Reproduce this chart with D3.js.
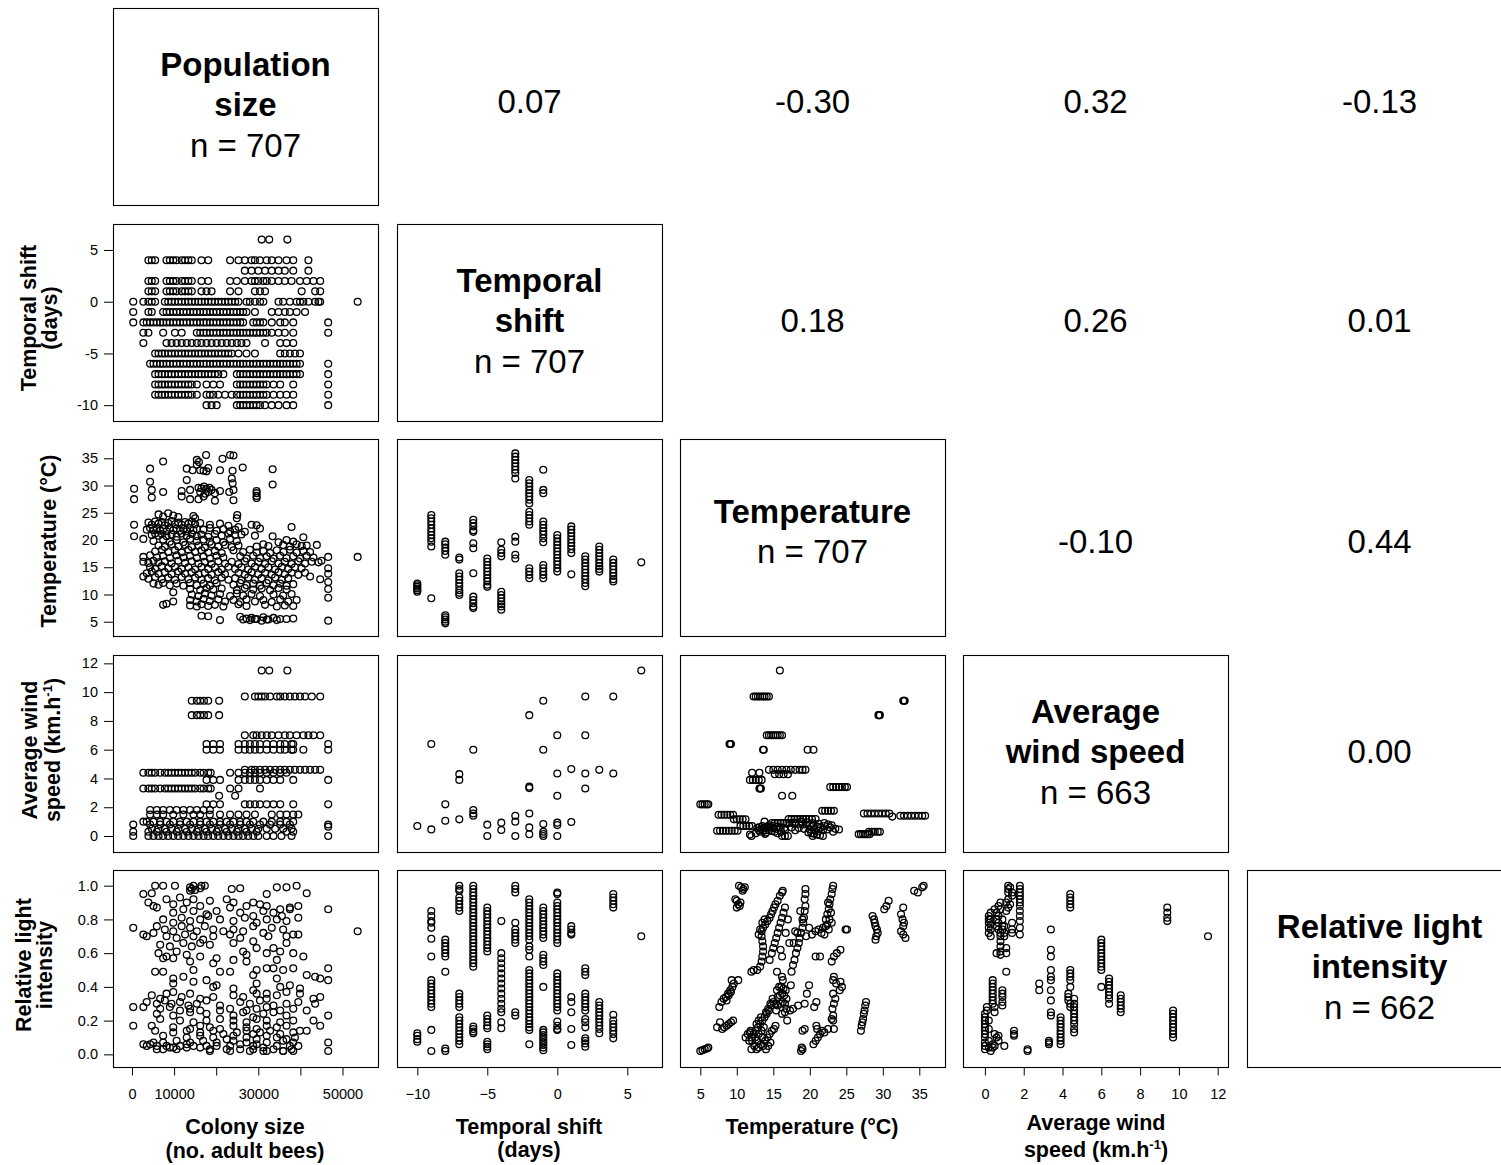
<!DOCTYPE html>
<html><head><meta charset="utf-8">
<script src="https://cdn.jsdelivr.net/npm/d3@7"></script>
<style>body{margin:0;background:#fff}svg{display:block}text{font-family:"Liberation Sans",Arial,Helvetica,sans-serif;fill:#000}</style>
</head><body><svg id="c" width="1501" height="1165"></svg>
<script>
// ---------------- DATA ----------------
const diagLabels = [["Population","size"],["Temporal","shift"],["Temperature"],["Average","wind speed"],["Relative light","intensity"]];
const diagN = [707,707,707,663,662];
const correlations = [[0,1,"0.07"],[0,2,"-0.30"],[0,3,"0.32"],[0,4,"-0.13"],[1,2,"0.18"],[1,3,"0.26"],[1,4,"0.01"],[2,3,"-0.10"],[2,4,"0.44"],[3,4,"0.00"]];
const popTicks = [0,10,20,30,40,50];            // thousands of bees
const popTickLabels = {0:"0",10:"10000",30:"30000",50:"50000"};
const shiftTicks = [-10,-5,0,5];
const tempTicks = [5,10,15,20,25,30,35];
const windTicks = [0,2,4,6,8,10,12];
const lightTicks = [0,0.2,0.4,0.6,0.8,1.0];

// Colony size (thousands) vs temporal shift: [shift, [colony sizes]]
const popShift = [
[6,[30.8,32.6,36.9]],
[4,[3.9,4.7,5.5,8.2,9.0,9.8,10.6,11.8,12.6,13.4,14.2,16.5,18.1,23.3,25.3,26.8,28.4,29.2,30.4,32.0,33.2,34.8,36.7,38.3,41.9]],
[3,[26.8,28.4,30.0,31.6,33.2,34.8,36.3,38.3,41.9]],
[2,[3.9,4.7,5.5,8.2,9.0,9.8,10.6,11.8,12.6,13.4,14.2,16.5,18.1,23.3,24.9,26.8,28.4,29.2,30.0,31.2,32.0,33.2,34.8,36.3,37.9,39.9,41.5,43.1,44.7]],
[1,[3.9,4.7,5.5,8.2,9.0,9.8,10.6,11.8,12.6,13.4,14.2,16.5,17.7,18.9,23.3,25.3,29.2,30.4,31.6,40.3,43.5,44.7]],
[0,[0.3,2.7,3.9,4.7,5.5,7.8,8.6,9.4,10.2,11.0,11.8,12.6,13.4,14.2,15.0,15.8,16.5,17.3,18.1,18.9,19.7,20.5,21.3,22.1,22.9,23.7,24.5,25.3,27.2,28.0,29.2,30.4,31.2,34.8,35.9,37.5,39.1,39.9,40.7,41.9,43.5,44.3,44.7,53.6]],
[-1,[0.3,3.9,4.7,7.4,8.2,9.0,9.8,10.6,11.4,12.2,13.0,13.8,14.6,15.4,16.2,17.0,17.7,18.5,19.3,20.1,20.9,21.7,22.5,23.3,24.1,24.9,25.7,26.4,27.2,29.2,33.2,34.8,36.3,37.5,39.1,41.1]],
[-2,[0.3,2.7,3.5,4.3,5.1,5.9,6.7,7.4,8.2,9.0,9.8,10.6,11.4,12.2,13.0,13.8,14.6,15.4,16.2,17.0,17.7,18.5,19.3,20.1,20.9,21.7,22.5,23.3,24.1,24.9,25.7,26.4,28.8,29.6,30.4,31.2,33.2,35.2,36.3,38.3,46.6]],
[-3,[2.7,3.9,7.4,10.2,11.8,15.4,16.2,17.0,17.7,18.5,19.3,20.1,20.9,21.7,22.5,23.3,24.1,24.9,25.7,26.4,27.2,28.0,28.8,29.6,30.4,31.2,32.0,33.2,34.8,36.3,38.3,46.6]],
[-4,[2.7,8.2,9.4,10.6,11.8,13.0,14.2,15.4,16.5,17.7,18.9,20.1,21.3,22.5,23.7,24.9,26.0,27.2,31.6,35.2,36.7,38.3]],
[-5,[5.5,6.3,7.1,7.8,8.6,9.4,10.2,11.0,11.8,12.6,13.4,14.2,15.0,15.8,16.5,17.3,18.1,18.9,19.7,20.5,21.3,22.1,22.9,23.7,25.3,27.2,29.2,35.2,36.3,37.5,38.7,39.9]],
[-6,[4.3,5.1,5.9,6.7,7.4,8.2,9.0,9.8,10.6,11.4,12.2,13.0,13.8,14.6,15.4,16.2,17.0,17.7,18.5,19.3,20.1,20.9,21.7,22.5,23.3,24.1,24.9,25.7,26.4,27.2,28.0,28.8,29.6,30.4,31.2,32.0,32.8,33.6,34.4,35.2,35.9,36.7,37.5,38.3,39.1,39.9,46.6]],
[-7,[5.5,6.3,7.1,7.8,8.6,9.4,10.2,11.0,11.8,12.6,13.4,14.2,15.0,15.8,16.5,17.3,18.1,18.9,19.7,20.5,21.7,24.9,25.7,26.4,27.2,28.0,28.8,29.6,30.4,31.2,32.0,32.8,33.6,34.4,35.2,35.9,36.7,37.5,38.3,39.1,39.9,46.6]],
[-8,[5.5,6.3,7.1,7.8,8.6,9.4,10.2,11.0,11.8,12.6,13.4,14.2,15.4,17.7,19.3,20.9,24.9,25.7,26.4,27.2,28.0,28.8,29.6,30.4,31.2,32.0,33.6,35.2,38.3,46.6]],
[-9,[5.5,6.3,7.1,7.8,8.6,9.4,10.2,11.0,11.8,12.6,13.4,14.2,15.4,17.7,18.5,19.3,20.5,22.1,23.7,24.9,25.7,26.4,27.2,28.0,28.8,29.6,30.4,31.2,32.0,33.6,35.2,36.7,38.3,46.6]],
[-10,[17.7,18.9,20.1,24.9,25.7,26.4,27.2,28.0,28.8,29.6,30.4,31.6,33.2,34.8,36.7,38.3,46.6]]
];

// Colony size (thousands) vs temperature: [colony, temperature]
const popTemp = [
[17.6,35.6],[23.3,35.6],[24.1,35.5],[21.5,34.9],[15.4,34.7],[7.4,34.4],[15.9,34.3],[15.4,33.8],[26.3,33.3],[4.3,33.1],[13.0,33.1],[18.1,33.2],[33.4,33.0],
[14.4,32.8],[16.2,32.8],[20.9,32.8],[17.0,32.7],[23.9,32.7],[17.7,32.6],[23.7,31.3],[13.0,31.0],[4.3,30.7],[23.9,30.4],[33.4,30.2],
[17.1,29.8],[15.8,29.6],[18.4,29.6],[29.6,29.0],[16.5,29.5],[0.5,29.4],[17.7,29.4],[4.7,29.2],[13.8,29.2],[18.9,29.2],[24.1,29.2],[11.8,29.0],[20.9,29.0],
[7.4,28.8],[16.2,28.8],[18.1,28.8],[23.1,28.8],[19.7,28.6],[29.6,28.6],[17.4,28.5],[29.6,28.1],[11.8,28.0],[17.0,28.0],[4.7,27.8],[29.6,27.7],[0.5,27.5],[13.8,27.5],[15.8,27.5],[24.1,27.3],[19.7,27.2],
[25.0,24.6],[24.9,24.0],[6.3,24.7],[7.4,24.3],[8.6,24.9],[9.8,24.5],[11.0,24.2],[14.6,24.4],[15.0,24.0],
[3.9,23.2],[4.7,22.8],[5.5,23.4],[6.3,23.0],[7.1,23.3],[7.8,22.7],[8.6,23.1],[9.4,23.5],[10.2,22.9],[11.0,23.2],[11.8,22.8],[12.6,23.3],[13.4,23.0],[14.2,23.4],[15.0,22.9],[16.2,23.1],[18.5,22.8],[20.9,23.0],[22.9,22.6],[25.3,22.4],[28.4,22.8],[29.6,22.7],[30.4,22.1],[37.9,22.4],[0.5,22.8],
[3.5,21.9],[4.3,22.2],[5.1,21.8],[5.9,22.1],[6.7,21.7],[7.4,22.0],[8.2,21.6],[9.0,22.2],[9.8,21.8],[10.6,22.1],[11.4,21.7],[12.2,22.0],[13.0,21.6],[13.8,22.2],[14.6,21.8],[15.4,22.0],[17.0,21.9],[18.5,22.2],[20.1,21.7],[21.7,22.0],[23.3,21.6],[24.5,21.9],[26.8,21.5],
[4.7,20.9],[5.5,21.2],[6.3,20.8],[7.1,21.1],[8.2,20.7],[9.4,21.0],[10.6,20.6],[11.8,21.2],[13.0,20.8],[14.2,21.1],[15.4,20.7],[16.5,21.0],[18.1,20.6],[19.7,21.1],[21.3,20.8],[22.9,21.2],[24.5,20.9],[26.0,21.0],[29.2,20.8],
[0.5,20.7],[33.4,20.7],[40.7,20.5],[2.7,20.2],
[5.1,19.8],[7.4,20.1],[9.0,19.7],[10.6,20.0],[12.2,19.6],[13.8,20.2],[15.4,19.8],[17.0,20.1],[18.5,19.7],[20.1,20.0],[21.7,19.6],[23.3,20.2],[24.9,19.8],[34.8,19.6],[36.7,20.0],[38.3,19.7],
[6.3,19.0],[7.8,18.7],[9.4,19.2],[11.0,18.8],[12.6,19.1],[14.2,18.7],[15.8,19.0],[17.3,18.6],[18.9,19.2],[20.5,18.8],[22.1,19.1],[23.7,18.7],[25.3,19.0],[29.6,18.8],[31.2,19.2],[32.4,18.9],[35.9,19.1],[37.5,18.8],[39.1,19.2],[40.3,18.9],[41.5,19.0],[43.9,19.1],
[5.5,17.9],[7.1,18.2],[8.6,17.8],[10.2,18.1],[11.8,17.7],[13.4,18.2],[15.0,17.8],[16.5,18.1],[18.1,17.7],[19.7,18.0],[21.3,17.6],[24.1,18.1],[26.4,17.8],[28.0,18.2],[29.6,17.7],[31.2,18.0],[32.8,17.6],[34.4,18.1],[36.0,17.8],[37.5,18.2],[39.1,17.7],[40.7,18.0],[42.3,17.8],
[2.7,16.9],[4.3,17.2],[5.9,16.8],[7.4,17.1],[9.0,16.7],[10.6,17.2],[12.2,16.8],[13.8,17.1],[15.4,16.7],[17.0,17.0],[18.5,16.6],[20.1,17.1],[21.7,16.8],[25.7,17.0],[27.2,16.6],[28.8,17.1],[30.4,16.7],[32.0,17.0],[33.6,16.6],[35.2,17.1],[36.7,16.7],[38.3,17.0],[39.9,16.6],[41.5,17.1],[43.1,16.8],[46.6,16.9],[53.6,16.9],
[2.7,16.0],[3.9,15.8],[5.1,16.2],[6.3,15.9],[7.8,16.1],[9.4,15.7],[11.0,16.2],[12.6,15.8],[14.2,16.1],[15.8,15.7],[17.3,16.0],[18.9,15.6],[20.5,16.1],[22.1,15.7],[23.7,16.0],[25.3,15.6],[26.8,16.1],[28.4,15.7],[30.0,16.0],[31.6,15.6],[33.2,16.1],[34.8,15.7],[36.3,16.0],[37.9,15.6],[39.5,16.1],[41.1,15.7],[42.7,16.0],[44.3,15.9],[45.0,16.2],
[4.3,15.0],[5.5,14.7],[7.1,15.2],[8.6,14.8],[10.2,15.1],[11.8,14.7],[13.4,15.0],[15.0,14.6],[16.5,15.1],[18.1,14.7],[19.7,15.0],[21.3,14.6],[22.9,15.1],[24.5,14.7],[26.0,15.0],[27.6,14.6],[29.2,15.1],[30.8,14.7],[32.4,15.0],[34.0,14.6],[35.6,15.1],[37.1,14.7],[38.7,15.0],[40.3,14.8],[46.6,14.8],
[3.5,13.9],[4.7,14.2],[6.3,13.8],[7.8,14.1],[9.4,13.7],[11.0,14.2],[12.6,13.8],[14.2,14.1],[15.8,13.7],[17.3,14.0],[18.9,13.6],[20.5,14.1],[22.1,13.7],[25.3,14.0],[26.8,13.6],[28.4,14.1],[30.0,13.7],[31.6,14.0],[33.2,13.6],[34.8,14.1],[36.3,13.7],[37.9,14.0],[39.5,13.6],[41.1,14.0],[46.6,13.8],
[2.7,13.3],[3.9,12.9],[5.5,13.2],[7.1,12.8],[8.6,13.1],[10.2,12.7],[11.8,13.2],[13.4,12.8],[15.0,13.1],[16.5,12.7],[18.1,13.0],[19.7,12.6],[21.3,13.1],[22.9,12.7],[24.5,13.0],[26.0,12.6],[27.6,13.1],[29.2,12.7],[30.8,13.0],[32.4,12.6],[34.0,13.1],[35.6,12.7],[37.1,13.0],[42.3,13.3],[44.7,12.8],[46.6,12.3],
[5.1,12.0],[6.3,11.8],[7.4,12.1],[9.0,11.7],[10.6,12.0],[12.2,11.6],[13.8,12.1],[15.4,11.7],[17.0,12.0],[18.5,11.6],[20.1,12.1],[24.1,11.8],[25.7,12.1],[27.2,11.7],[28.8,12.0],[30.4,11.6],[32.0,12.1],[33.6,11.7],[35.2,12.0],[36.7,11.6],[38.3,11.9],
[13.8,11.0],[16.2,10.8],[17.7,11.2],[19.3,10.9],[21.3,11.1],[24.9,10.8],[26.8,11.2],[28.8,10.9],[30.8,11.1],[32.8,10.8],[34.8,11.2],[36.7,10.9],[46.6,11.0],
[9.8,10.4],[14.2,10.0],[15.8,9.7],[17.3,10.2],[18.9,9.8],[20.9,10.1],[23.3,9.7],[24.9,10.2],[26.4,9.8],[28.4,10.1],[30.4,9.7],[33.6,10.0],[35.9,9.8],[37.9,10.1],
[13.8,9.0],[15.4,8.7],[17.0,9.2],[18.5,8.8],[20.5,9.1],[22.1,8.7],[24.1,9.0],[25.7,8.6],[27.2,9.1],[29.2,8.7],[31.2,9.0],[33.2,8.6],[35.2,9.1],[37.1,8.7],[39.1,9.0],[46.6,9.4],
[7.4,8.1],[8.2,8.3],[9.8,8.7],[13.8,8.0],[15.4,7.8],[16.5,8.2],[18.1,7.9],[19.7,8.1],[21.7,7.8],[25.3,8.2],[27.2,7.9],[31.6,8.1],[34.4,7.8],[36.3,8.0],[38.3,7.9],
[16.5,6.1],[18.1,6.0],[25.7,5.9],[27.2,5.6],[28.4,5.7],[29.6,5.5],[31.2,5.8],[32.0,5.4],[33.6,5.7],[35.2,5.5],[38.3,5.6],
[20.9,5.3],[26.4,5.4],[28.0,5.3],[29.2,5.5],[30.8,5.2],[32.4,5.4],[34.4,5.3],[36.7,5.5],[46.6,5.2]
];

// Colony size (thousands) vs wind speed: [wind, [colony sizes]]
const popWind = [
[11.5,[30.8,32.6,36.9]],
[9.7,[26.8,29.2,30.0,30.8,31.6,32.8,34.4,35.2,36.3,37.5,38.7,39.9,41.1,42.7,44.7]],
[9.4,[14.2,15.4,16.2,17.1,18.1,20.7]],
[8.4,[14.2,15.4,16.2,17.1,18.1,20.7]],
[7.0,[26.8,28.8,29.6,30.8,32.0,33.2,34.8,36.3,37.5,39.1,40.7,41.9,43.1,44.7]],
[6.4,[17.7,19.3,20.9,25.3,26.8,28.0,29.2,30.4,32.0,33.6,35.2,36.3,37.9,38.3,46.6]],
[6.0,[17.7,19.3,20.9,25.3,26.8,28.0,29.2,30.4,32.0,33.6,35.2,36.3,37.9,38.3,40.7,46.6]],
[4.6,[26.8,28.4,29.2,30.4,31.6,32.8,34.0,35.2,36.3,37.5,38.7,39.9,41.1,42.3,43.5,44.7]],
[4.4,[2.7,3.9,4.7,5.5,6.7,7.8,8.6,9.4,10.2,11.0,11.8,12.6,13.4,14.2,15.0,16.2,17.0,18.1,18.7,23.3,25.3,26.8,28.0,29.2,30.4,32.0,33.6,35.2,36.7]],
[3.9,[17.7,19.3,20.9,25.3,26.8,28.0,29.2,30.4,32.0,33.6,35.2,38.3,46.6]],
[3.3,[2.7,3.9,4.7,5.5,6.7,7.8,8.6,9.4,10.2,11.0,11.8,12.6,13.4,14.2,15.0,16.2,17.0,18.1,18.7,23.3,25.3,30.4]],
[2.8,[20.7,24.5]],
[2.2,[17.7,19.3,20.9,26.8,28.0,29.2,30.4,32.0,33.6,35.2,38.3,46.6]],
[1.8,[4.3,5.9,7.4,9.0,10.6,12.2,13.8,15.4,17.0,18.5]],
[1.5,[4.3,5.9,7.4,9.8,12.2,14.6,16.2,18.5,20.9,23.3,25.3,27.2,29.2,33.2,35.2,36.7,38.3,39.5]],
[1.0,[2.7,3.5,5.1,6.7,8.2,9.8,11.4,13.0,14.6,16.2,17.7,19.3,20.9,22.5,24.1,25.7,27.2,28.8,31.2,33.2,35.2,36.7,38.3]],
[0.8,[0.3,4.3,6.7,9.0,11.4,13.8,16.2,18.5,20.9,23.3,25.7,28.0,30.4,32.8,35.2,37.5,46.6]],
[0.65,[46.6]],
[0.5,[4.7,6.3,7.8,9.4,11.0,12.6,14.2,15.8,17.3,18.9,20.5,22.1,23.7,25.3,26.8,28.4,30.0,32.0,34.0,35.9,37.9]],
[0.3,[0.3,3.9,5.9,8.2,10.6,13.0,15.4,17.7,20.1,22.5,24.9,27.2,29.6,36.7,38.3]],
[0.0,[0.3,3.9,5.1,6.3,7.4,8.6,9.8,11.0,12.2,13.4,14.6,15.8,17.0,18.1,19.3,20.5,21.7,22.9,24.1,25.3,26.4,27.6,28.8,30.0,32.0,33.6,35.5,37.9,46.6]]
];

// Colony size (thousands) vs relative light: [colony, light]
const popLight = [
[5.5,1.0],[7.4,1.0],[10.2,1.0],[13.8,0.99],[14.6,1.0],[16.5,1.0],[17.3,1.0],[34.4,0.99],[36.7,0.99],[39.1,1.0],
[2.7,0.95],[4.7,0.955],[13.8,0.97],[14.2,0.98],[15.0,0.975],[16.2,0.985],[23.7,0.98],[25.7,0.985],[32.0,0.95],[41.5,0.955],
[3.9,0.9],[5.1,0.88],[8.2,0.92],[9.8,0.89],[11.4,0.93],[13.0,0.9],[14.6,0.92],[16.2,0.88],[18.5,0.91],[22.5,0.92],[24.1,0.9],[27.2,0.88],[28.8,0.9],[30.4,0.89],[32.0,0.88],[35.2,0.86],[37.5,0.87],[39.5,0.88],
[5.9,0.87],[9.8,0.84],[12.2,0.86],[14.6,0.85],[17.7,0.83],[20.1,0.85],[23.3,0.87],[25.7,0.84],[28.8,0.82],[31.2,0.85],[33.6,0.84],[35.6,0.82],[37.5,0.86],[46.6,0.86],
[7.4,0.8],[9.8,0.78],[11.8,0.81],[13.8,0.79],[16.2,0.8],[18.1,0.82],[20.9,0.8],[24.1,0.79],[26.8,0.81],[29.6,0.78],[32.0,0.8],[34.4,0.8],[36.7,0.79],[39.5,0.81],
[0.3,0.75],[3.5,0.7],[5.9,0.76],[7.8,0.74],[9.8,0.73],[11.8,0.76],[13.8,0.75],[15.4,0.73],[17.3,0.76],[19.3,0.74],[21.7,0.73],[24.1,0.74],[26.4,0.73],[28.8,0.76],[31.2,0.72],[33.2,0.75],[35.9,0.74],[38.3,0.71],[53.6,0.73],
[2.7,0.71],[5.1,0.72],[8.2,0.7],[10.6,0.69],[12.6,0.71],[14.6,0.7],[16.9,0.68],[19.3,0.7],[23.3,0.71],[25.7,0.69],[28.8,0.67],[32.4,0.7],[36.7,0.7],[39.5,0.71],
[6.7,0.65],[9.0,0.64],[12.2,0.66],[14.2,0.64],[16.2,0.66],[18.5,0.65],[24.1,0.66],[26.4,0.61],[29.6,0.63],[33.6,0.63],[36.7,0.66],
[6.3,0.6],[8.2,0.58],[10.6,0.61],[13.0,0.59],[16.2,0.58],[20.1,0.57],[27.2,0.59],[32.0,0.6],[35.2,0.61],[38.3,0.6],[40.7,0.58],
[7.4,0.57],[9.8,0.57],[13.8,0.55],[19.3,0.54],[24.1,0.56],[27.2,0.55],[29.6,0.5],[34.4,0.56],[35.9,0.5],
[5.5,0.49],[7.4,0.49],[14.6,0.5],[20.9,0.49],[23.3,0.49],[28.8,0.47],[32.0,0.51],[33.6,0.51],[38.3,0.51],[41.5,0.47],[43.5,0.46],[46.6,0.51],[46.6,0.44],
[9.8,0.45],[12.2,0.46],[19.3,0.4],[24.1,0.39],[29.6,0.42],[34.4,0.45],[44.7,0.45],
[9.8,0.42],[14.6,0.43],[17.7,0.44],[20.1,0.41],[28.8,0.38],[32.0,0.36],[35.2,0.4],[37.5,0.41],[39.9,0.39],
[4.7,0.35],[6.7,0.33],[8.2,0.36],[9.8,0.37],[11.8,0.34],[13.8,0.36],[16.2,0.33],[19.3,0.34],[24.1,0.35],[26.4,0.34],[29.6,0.36],[32.0,0.33],[34.4,0.35],[36.7,0.37],[39.9,0.36],[43.1,0.33],[44.7,0.34],
[3.5,0.31],[5.9,0.3],[7.8,0.32],[9.4,0.3],[11.4,0.31],[13.4,0.29],[15.4,0.3],[17.7,0.32],[20.9,0.29],[25.7,0.31],[28.0,0.3],[30.4,0.32],[33.6,0.29],[36.7,0.3],[39.5,0.31],[43.5,0.3],
[0.3,0.28],[2.7,0.28],[6.7,0.27],[9.0,0.28],[11.4,0.26],[13.8,0.27],[16.2,0.26],[23.3,0.27],[27.2,0.26],[29.6,0.27],[32.0,0.28],[35.2,0.26],[38.3,0.27],[41.5,0.26],
[5.9,0.24],[9.8,0.23],[13.8,0.25],[17.7,0.24],[20.9,0.26],[24.1,0.23],[26.4,0.25],[28.8,0.22],[31.2,0.24],[33.6,0.25],[36.7,0.23],
[6.7,0.21],[11.4,0.2],[14.6,0.19],[17.7,0.2],[20.9,0.21],[24.1,0.2],[27.2,0.19],[29.6,0.21],[32.0,0.2],[35.2,0.19],[38.3,0.2],[43.1,0.2],[46.6,0.23],
[0.3,0.17],[4.7,0.17],[9.8,0.16],[13.8,0.15],[16.2,0.17],[18.5,0.16],[20.9,0.15],[24.1,0.17],[27.2,0.16],[29.6,0.15],[32.0,0.17],[34.4,0.16],[36.7,0.17],[39.9,0.14],[44.7,0.17],
[5.5,0.14],[9.8,0.13],[13.0,0.14],[16.2,0.13],[19.3,0.14],[21.7,0.12],[24.9,0.13],[27.2,0.14],[28.8,0.12],[30.4,0.13],[32.8,0.14],[35.2,0.12],[38.3,0.13],[41.5,0.14],
[7.4,0.11],[13.0,0.1],[16.2,0.11],[19.3,0.1],[22.5,0.09],[24.1,0.11],[27.2,0.1],[29.6,0.09],[32.0,0.11],[34.4,0.1],[36.7,0.09],[38.7,0.1],
[2.7,0.06],[5.1,0.07],[7.4,0.07],[10.6,0.08],[13.8,0.07],[16.9,0.08],[20.1,0.07],[24.1,0.08],[27.2,0.07],[29.6,0.06],[32.0,0.07],[35.9,0.08],[38.3,0.07],[46.6,0.07],
[3.5,0.05],[4.3,0.06],[5.9,0.05],[8.2,0.05],[9.8,0.04],[11.4,0.05],[13.0,0.06],[14.6,0.05],[16.2,0.04],[17.7,0.05],[20.1,0.05],[23.3,0.05],[25.7,0.06],[28.8,0.05],[31.2,0.04],[34.4,0.05],[37.5,0.05],[39.5,0.05],
[5.9,0.03],[7.4,0.03],[9.0,0.04],[10.6,0.03],[13.0,0.04],[18.5,0.03],[22.5,0.03],[25.7,0.03],[28.8,0.03],[31.2,0.02],[33.6,0.03],[35.9,0.02],[37.9,0.03],
[18.5,0.02],[23.3,0.02],[28.0,0.02],[32.0,0.02],[35.9,0.02],[38.3,0.02],[46.6,0.02]
];

// Temporal shift vs temperature: [shift, [temperatures]]
const shiftTemp = [
[-10,[10.5,10.8,11.1,11.4,11.7,12.0]],
[-9,[9.3,18.8,19.7,20.3,20.9,21.5,22.1,22.8,23.4,24.0,24.6]],
[-8,[4.7,5.0,5.4,5.8,6.2,17.3,18.0,18.6,19.2,19.7]],
[-7,[9.9,10.3,10.8,11.5,12.1,12.7,13.3,13.9,16.4,16.8]],
[-6,[7.5,7.8,8.4,9.0,9.6,13.9,18.5,19.4,21.5,21.8,22.5,23.1,23.7]],
[-5,[11.4,11.8,12.4,13.0,13.6,14.2,14.8,15.4,16.0,16.6]],
[-4,[7.2,7.8,8.2,8.7,9.3,9.9,10.5,17.0,17.6,18.2,19.6]],
[-3,[16.6,17.3,19.7,20.6,31.3,32.3,32.9,33.5,34.1,34.7,35.3,35.9]],
[-2,[13.0,13.6,14.2,14.8,22.8,23.4,24.0,24.6,25.2,26.7,27.4,28.0,28.6,29.2,29.8,30.4,31.0]],
[-1,[13.0,13.6,14.2,14.8,15.4,19.6,20.3,21.0,21.6,22.2,22.8,23.4,28.6,29.2,32.9]],
[0,[14.2,14.8,15.5,16.1,16.7,17.3,17.9,18.5,19.1,19.7,20.3,20.9]],
[1,[13.7,17.6,18.3,18.9,19.5,20.1,20.7,21.3,21.9,22.5]],
[2,[11.5,12.1,12.8,13.4,14.0,14.6,15.2,15.8,16.4,17.0]],
[3,[14.2,14.7,15.2,15.8,16.4,17.0,17.6,18.2,18.8]],
[4,[12.4,12.8,13.4,14.0,14.6,15.2,15.8,16.4]],
[6,[15.9]]
];

// Temporal shift vs wind speed: [shift, wind]
const shiftWind = [
[-10,0.7],[-9,6.4],[-9,0.46],[-8,2.2],[-8,1.06],[-7,4.3],[-7,3.9],[-7,1.16],[-6,6.0],[-6,1.8],[-6,1.57],[-6,1.41],[-5,0.79],[-5,0],[-4,0.93],[-4,0.42],[-3,1.41],[-3,1.0],[-3,0],
[-2,8.4],[-2,3.43],[-2,3.33],[-2,1.57],[-2,0.6],[-2,0.12],[-1,9.4],[-1,6.0],[-1,0.83],[-1,0.3],[-1,0.14],[-1,0],[0,7.0],[0,4.35],[0,2.8],[0,0.93],[0,0.76],[0,0],
[1,4.65],[1,0.97],[2,9.7],[2,7.0],[2,4.35],[2,3.3],[3,4.6],[4,9.7],[4,4.35],[6,11.5]
];

// Temporal shift vs relative light: [shift, [light values]]
const shiftLight = [
[-10,[0.075,0.09,0.11,0.125]],
[-9,[0.02,0.145,0.28,0.3,0.32,0.34,0.36,0.38,0.4,0.42,0.44,0.58,0.685,0.75,0.78,0.79,0.82,0.85]],
[-8,[0.02,0.035,0.49,0.58,0.6,0.62,0.64,0.66,0.68]],
[-7,[0.06,0.08,0.1,0.12,0.14,0.16,0.18,0.2,0.22,0.28,0.3,0.32,0.34,0.36,0.85,0.87,0.89,0.91,0.93,0.97,0.98,1.0]],
[-6,[0.125,0.135,0.15,0.165,0.52,0.54,0.56,0.58,0.6,0.62,0.64,0.66,0.68,0.7,0.72,0.74,0.76,0.78,0.8,0.82,0.84,0.86,0.88,0.9,0.92,0.94,0.96,0.98,1.0]],
[-5,[0.03,0.045,0.06,0.075,0.155,0.17,0.19,0.21,0.23,0.61,0.63,0.65,0.67,0.69,0.71,0.73,0.75,0.77,0.79,0.81,0.83,0.85,0.87]],
[-4,[0.155,0.19,0.25,0.27,0.3,0.33,0.36,0.39,0.42,0.45,0.48,0.51,0.54,0.57,0.6,0.79]],
[-3,[0.23,0.25,0.66,0.68,0.7,0.72,0.74,0.78,0.96,0.98,1.0]],
[-2,[0.06,0.145,0.16,0.18,0.2,0.22,0.24,0.26,0.28,0.3,0.32,0.34,0.36,0.38,0.4,0.42,0.44,0.46,0.48,0.5,0.58,0.62,0.64,0.68,0.7,0.72,0.74,0.76,0.78,0.8,0.82,0.84,0.86,0.88,0.9,0.92]],
[-1,[0.025,0.04,0.055,0.07,0.085,0.1,0.115,0.13,0.145,0.4,0.53,0.55,0.57,0.59,0.69,0.71,0.73,0.75,0.77,0.79,0.81,0.83,0.85,0.87]],
[0,[0.145,0.15,0.17,0.195,0.26,0.28,0.3,0.32,0.34,0.36,0.38,0.4,0.42,0.44,0.46,0.48,0.66,0.68,0.7,0.72,0.74,0.76,0.78,0.8,0.82,0.84,0.86,0.88,0.9,0.95,0.96]],
[1,[0.055,0.15,0.25,0.31,0.34,0.71,0.72,0.74,0.76]],
[2,[0.045,0.065,0.08,0.095,0.16,0.19,0.21,0.26,0.28,0.3,0.32,0.34,0.36,0.47,0.49,0.51]],
[3,[0.125,0.15,0.17,0.19,0.21,0.23,0.25,0.27,0.29,0.31]],
[4,[0.095,0.12,0.14,0.16,0.18,0.2,0.235,0.87,0.89,0.91,0.93,0.95]],
[6,[0.7]]
];

// Temperature vs wind speed: [temperature, wind]
const tempWind = [
[15.9,11.5],[12.3,9.7],[12.6,9.7],[12.9,9.7],[13.2,9.7],[13.5,9.7],[13.8,9.7],[14.1,9.7],[14.4,9.7],[32.8,9.4],[32.9,9.4],[33.0,9.4],[29.4,8.4],[29.5,8.4],[29.6,8.4],
[14.1,7.0],[14.4,7.0],[14.7,7.0],[15.0,7.0],[15.3,7.0],[15.6,7.0],[15.9,7.0],[16.2,7.0],[9.0,6.4],[9.1,6.4],[9.2,6.4],[13.6,6.0],[13.7,6.0],[19.7,6.0],[20.5,6.0],
[12.1,4.4],[13.1,4.4],[14.4,4.6],[15.0,4.6],[15.6,4.6],[16.2,4.6],[16.8,4.6],[17.4,4.6],[18.0,4.6],[18.6,4.6],[19.0,4.6],[19.4,4.6],[15.2,4.3],[15.8,4.3],[16.4,4.3],[17.0,4.3],
[11.8,3.9],[12.2,3.9],[12.6,3.9],[13.0,3.9],[13.4,3.9],[13.1,3.3],[13.2,3.3],[13.3,3.3],[16.2,2.8],[17.6,2.8],
[22.8,3.4],[23.2,3.4],[23.6,3.4],[24.0,3.4],[24.4,3.4],[24.8,3.4],[25.1,3.4],[5.0,2.2],[5.3,2.2],[5.6,2.2],[5.9,2.2],[6.1,2.2],
[21.7,1.76],[22.1,1.76],[22.5,1.76],[22.9,1.76],[23.3,1.76],[7.5,1.48],[7.9,1.48],[8.3,1.48],[8.7,1.48],[9.1,1.48],[9.5,1.48],
[9.6,1.16],[10.0,1.16],[10.4,1.16],[10.8,1.16],[11.2,1.16],[10.5,0.7],[10.9,0.7],[11.3,0.7],[11.7,0.7],[12.1,0.7],
[7.3,0.37],[7.7,0.37],[8.1,0.37],[8.5,0.37],[8.9,0.37],[9.3,0.37],[9.7,0.37],[10.1,0.37],[12.0,0.0],[11.8,0.1],
[13.0,0.4],[13.4,0.5],[13.8,0.6],[14.2,0.6],[14.6,0.6],[15.0,0.55],[15.4,0.5],[13.2,0.3],[13.6,0.35],[14.0,0.4],[14.4,0.4],[14.8,0.35],[15.2,0.3],[12.6,0.2],[14.0,0.25],[13.8,1.0],
[12.8,0.55],[13.1,0.62],[13.5,0.7],[14.4,0.75],[14.9,0.7],[15.5,0.65],[16.0,0.6],[16.5,0.55],[13.9,0.15],[15.6,0.2],[16.1,0.3],[16.6,0.4],
[16.2,0.0],[16.6,0.0],[17.0,0.0],[14.8,0.9],[15.2,0.9],[15.6,0.9],[16.0,0.9],[16.4,0.9],[16.8,0.9],[17.2,0.9],[17.6,0.9],
[17.1,1.18],[17.5,1.18],[17.9,1.18],[18.3,1.18],[18.7,1.18],[19.1,1.18],[19.5,1.18],[19.9,1.18],[20.3,1.18],[20.8,1.18],
[18.0,0.9],[18.5,0.85],[19.0,0.8],[19.5,0.8],[20.0,0.75],[20.5,0.7],[21.0,0.65],[21.5,0.6],[22.0,0.7],[22.5,0.8],[23.0,0.75],[23.5,0.5],[24.0,0.45],[18.5,0.55],[19.2,0.5],[20.0,0.45],[20.6,0.4],[21.2,0.35],[21.8,0.4],[22.4,0.45],
[18.8,1.0],[19.6,0.95],[20.4,0.9],[21.2,0.85],[22.0,0.9],[22.8,0.6],[23.2,0.3],[17.5,0.6],[18.0,0.4],
[19.8,0.25],[20.2,0.2],[20.6,0.15],[21.0,0.1],[21.4,0.05],[21.8,0.0],[20.4,0.0],
[26.7,0.13],[27.0,0.13],[27.3,0.13],[27.6,0.13],[27.9,0.13],[28.2,0.13],[28.1,0.3],[28.5,0.3],[28.9,0.3],[29.3,0.3],[29.6,0.3],
[27.4,1.57],[27.9,1.57],[28.4,1.57],[28.9,1.57],[29.4,1.57],[29.9,1.57],[30.4,1.57],[30.9,1.57],[31.3,1.35],
[32.4,1.41],[32.9,1.41],[33.4,1.41],[33.9,1.41],[34.4,1.41],[34.9,1.41],[35.4,1.41],[35.8,1.41]
];

// Temperature vs relative light: [temperature, light]
const tempLight = [
[5.0,0.02],[5.3,0.025],[5.6,0.03],[5.9,0.035],[6.1,0.04],[10.3,1.0],[10.6,0.99],[10.9,0.98],[11.1,0.99],[10.8,0.97],
[9.8,0.92],[10.0,0.91],[10.2,0.89],[10.4,0.88],[10.0,0.87],[10.5,0.9],
[7.6,0.28],[7.9,0.31],[8.2,0.33],[8.5,0.34],[8.8,0.36],[9.1,0.38],[9.4,0.4],[9.6,0.42],[9.3,0.44],[10.2,0.44],[8.6,0.32],[8.9,0.35],[9.2,0.37],
[7.3,0.16],[7.7,0.19],[8.0,0.15],[8.3,0.16],[8.6,0.17],[8.9,0.18],[9.2,0.19],[9.5,0.2],
[12.0,0.49],[12.3,0.5],[12.8,0.5],[13.2,0.52],[13.4,0.55],[13.5,0.58],[13.6,0.61],[13.6,0.64],[13.5,0.67],[13.4,0.7],[13.4,0.73],[13.6,0.75],[13.9,0.77],[14.2,0.79],[14.5,0.81],[14.7,0.83],[14.9,0.85],[15.1,0.87],[15.3,0.89],[15.6,0.91],[15.9,0.94],[16.2,0.96],[16.3,0.97],[13.0,0.71],[13.2,0.74],[13.5,0.78],[13.8,0.8],
[14.5,0.56],[14.8,0.6],[15.0,0.63],[15.2,0.66],[15.4,0.69],[15.6,0.72],[15.8,0.75],[16.0,0.78],[16.2,0.81],[16.4,0.84],[16.6,0.87],[16.0,0.62],[16.2,0.58],[16.7,0.72],[17.0,0.8],
[15.5,0.49],[16.2,0.46],[17.5,0.49],[16.3,0.44],
[17.7,0.53],[17.9,0.56],[18.1,0.6],[18.3,0.63],[18.5,0.66],[18.6,0.69],[18.8,0.72],[19.0,0.75],[19.1,0.78],[19.2,0.81],[19.3,0.85],[19.4,0.88],[19.3,0.92],[19.4,0.95],[19.4,0.98],[18.7,0.85],[19.0,0.8],[18.0,0.73],[17.2,0.66],[17.8,0.66],[18.3,0.72],
[19.5,0.7],[19.9,0.75],[20.3,0.71],[20.8,0.73],[21.2,0.74],[21.6,0.72],[22.0,0.71],[21.8,0.75],[22.2,0.76],[22.6,0.74],[22.4,0.77],[23.0,0.78],[24.9,0.74],[25.1,0.74],
[22.2,0.8],[22.4,0.83],[22.6,0.86],[22.7,0.89],[22.8,0.92],[23.0,0.95],[23.1,0.98],[23.2,1.0],[22.5,0.9],[22.9,0.84],[22.7,0.8],
[20.8,0.58],[21.4,0.58],[24.2,0.62],[23.7,0.6],[23.3,0.58],[23.0,0.55],
[23.3,0.46],[23.2,0.44],[23.6,0.42],[24.2,0.43],[24.4,0.4],[24.1,0.38],[23.2,0.36],[23.5,0.33],[23.3,0.3],[23.1,0.27],[23.2,0.23],[23.0,0.21],[23.3,0.15],
[19.6,0.36],[19.9,0.41],[17.4,0.41],[20.9,0.31],[20.6,0.28],[19.3,0.3],[18.4,0.29],[17.7,0.27],[17.3,0.26],[16.6,0.25],
[15.5,0.38],[15.8,0.4],[16.1,0.4],[16.4,0.39],[16.7,0.38],[15.6,0.34],[15.9,0.35],[16.2,0.36],[16.5,0.35],[16.8,0.33],[15.3,0.3],[15.6,0.29],[16.0,0.3],[16.3,0.31],[16.6,0.3],[14.9,0.33],[14.6,0.3],[14.3,0.27],[14.0,0.25],[15.4,0.26],[16.2,0.24],[16.9,0.2],[16.8,0.27],
[11.7,0.08],[12.0,0.1],[12.3,0.12],[12.6,0.14],[12.9,0.16],[13.2,0.18],[13.5,0.2],[13.8,0.22],[14.1,0.24],[14.4,0.26],[14.7,0.29],[15.0,0.31],
[11.2,0.1],[11.5,0.12],[11.8,0.13],[12.1,0.08],[12.4,0.05],[12.7,0.03],[13.0,0.04],[13.3,0.06],[13.6,0.05],[13.9,0.08],[14.2,0.1],[14.5,0.12],[14.8,0.14],[15.1,0.15],[15.3,0.17],[12.0,0.03],[12.5,0.1],[13.0,0.12],[13.4,0.14],[12.8,0.08],[13.5,0.1],[14.0,0.03],[14.3,0.05],[14.6,0.07],[11.9,0.14],[13.7,0.16],[13.0,0.2],[13.3,0.22],[12.7,0.18],
[18.8,0.02],[19.0,0.03],[18.9,0.04],[19.0,0.14],[19.3,0.15],[20.5,0.06],[20.8,0.08],[21.1,0.1],[21.4,0.12],[21.7,0.14],[22.0,0.13],[20.9,0.17],[21.0,0.15],[22.5,0.15],[23.2,0.2],
[27.0,0.14],[27.1,0.17],[27.2,0.19],[27.3,0.21],[27.4,0.24],[27.5,0.26],[27.6,0.29],[27.7,0.31],
[28.6,0.82],[28.8,0.8],[28.9,0.78],[29.0,0.76],[29.2,0.74],[29.3,0.72],[29.1,0.7],[29.0,0.68],[30.2,0.86],[30.5,0.88],[30.8,0.91],
[32.5,0.83],[32.7,0.8],[32.9,0.78],[32.8,0.76],[32.5,0.73],[32.8,0.71],[33.1,0.69],[32.8,0.87],[34.3,0.97],[34.8,0.96],[35.4,0.99],[35.6,1.0]
];

// Wind speed vs relative light: [wind, [light values]]
const windLight = [
[0.0,[0.03,0.05,0.07,0.1,0.12,0.14,0.16,0.18,0.2,0.22,0.24]],
[0.1,[0.26,0.28]],
[0.2,[0.04,0.08,0.15,0.2,0.72,0.75,0.78,0.8,0.82]],
[0.3,[0.02,0.7,0.74,0.77,0.8,0.84]],
[0.4,[0.04,0.06,0.3,0.32,0.34,0.36,0.38,0.4,0.42,0.44]],
[0.5,[0.05,0.12,0.25,0.28,0.86]],
[0.6,[0.1,0.6,0.76,0.8,0.84]],
[0.7,[0.08,0.11,0.74,0.78,0.82,0.88]],
[0.8,[0.59,0.61,0.64,0.67,0.7,0.72,0.86,0.9]],
[0.9,[0.29,0.31,0.34,0.36,0.38,0.74,0.76,0.8]],
[1.0,[0.05,0.7,0.72,0.76]],
[1.1,[0.49,0.6,0.63,0.85,0.9]],
[1.2,[0.87,0.92,0.96,0.98,1.0]],
[1.3,[0.89,0.99]],
[1.4,[0.72,0.74,0.78,0.94,0.96]],
[1.5,[0.11,0.12,0.14]],
[1.8,[0.71,0.75,0.79,0.82,0.85,0.88,0.9,0.92,0.94,0.96,0.98,1.0]],
[2.2,[0.02,0.03]],
[2.8,[0.38,0.42]],
[3.3,[0.06,0.07,0.08]],
[3.4,[0.23,0.25,0.32,0.38,0.44,0.46,0.5,0.58,0.62,0.74]],
[3.9,[0.06,0.08,0.1,0.12,0.14,0.16,0.18,0.2,0.22]],
[4.3,[0.32,0.34,0.36]],
[4.4,[0.28,0.3,0.4,0.44,0.46,0.48,0.5,0.87,0.89,0.91,0.93,0.95]],
[4.6,[0.13,0.15,0.18,0.2,0.22,0.24,0.26,0.28,0.3,0.33]],
[6.0,[0.4,0.5,0.52,0.54,0.56,0.58,0.6,0.62,0.64,0.66,0.68]],
[6.4,[0.3,0.33,0.35,0.37,0.39,0.41,0.43,0.45]],
[7.0,[0.25,0.27,0.29,0.31,0.33,0.35]],
[9.4,[0.79,0.81,0.84,0.87]],
[9.7,[0.1,0.12,0.14,0.16,0.18,0.2,0.22,0.24,0.26]],
[11.5,[0.7]]
];

// ---------------- LAYOUT ----------------
const svg = d3.select('#c');
const colX = [113, 397, 680, 963, 1247], rowY = [8, 224, 439, 655, 870], PW = 265, PH = 197;
const keys = ['pop','shift','temp','wind','light'];
const xDom = {pop:[-4.51,58.43], shift:[-11.45,7.48], temp:[2.22,38.52], wind:[-1.13,12.53]};
const yDom = {shift:[-11.53,7.51], temp:[2.38,38.54], wind:[-1.11,12.58], light:[-0.075,1.093]};
const xs = {}, ys = {};
keys.forEach((k,i)=>{
  if (xDom[k]) xs[k] = d3.scaleLinear().domain(xDom[k]).range([colX[i], colX[i]+PW]);
  if (yDom[k]) ys[k] = d3.scaleLinear().domain(yDom[k]).range([rowY[i]+PH, rowY[i]]);
});

for (let r=0;r<5;r++) for (let c=0;c<=r;c++) {
  svg.append('rect').attr('x',colX[c]+0.5).attr('y',rowY[r]+0.5).attr('width',PW).attr('height',PH)
     .attr('fill','none').attr('stroke','#000').attr('stroke-width',1.1);
}

const byY = g => g.flatMap(([y,v]) => v.map(x=>[x,y]));
const byX = g => g.flatMap(([x,v]) => v.map(y=>[x,y]));
const panels = [
  {r:1,c:0,pts:byY(popShift)},
  {r:2,c:0,pts:popTemp},
  {r:3,c:0,pts:byY(popWind)},
  {r:4,c:0,pts:popLight},
  {r:2,c:1,pts:byX(shiftTemp)},
  {r:3,c:1,pts:shiftWind},
  {r:4,c:1,pts:byX(shiftLight)},
  {r:3,c:2,pts:tempWind},
  {r:4,c:2,pts:tempLight},
  {r:4,c:3,pts:byX(windLight)}
];
panels.forEach(p=>{
  const sx = xs[keys[p.c]], sy = ys[keys[p.r]];
  svg.append('g').selectAll('circle').data(p.pts).join('circle')
    .attr('cx', d=>sx(d[0])).attr('cy', d=>sy(d[1])).attr('r',3.4)
    .attr('fill','none').attr('stroke','#000').attr('stroke-width',1.3);
});

function styleAxis(g){
  g.select('.domain').remove();
  g.selectAll('.tick line').attr('stroke','#000');
  g.selectAll('.tick text').attr('font-size',14.5).attr('font-family','"Liberation Sans",Arial,sans-serif');
}
const yAxes = [
  {k:'shift', ticks:shiftTicks, fmt:d=>String(d)},
  {k:'temp', ticks:tempTicks, fmt:d=>String(d)},
  {k:'wind', ticks:windTicks, fmt:d=>String(d)},
  {k:'light', ticks:lightTicks, fmt:d3.format('.1f')}
];
yAxes.forEach(a=>{
  svg.append('g').attr('transform',`translate(${colX[0]},0)`)
    .call(d3.axisLeft(ys[a.k]).tickValues(a.ticks).tickFormat(a.fmt).tickSize(9).tickPadding(6))
    .call(styleAxis);
});
const xAxes = [
  {k:'pop', ticks:popTicks, fmt:d=>popTickLabels[d]||""},
  {k:'shift', ticks:shiftTicks, fmt:d=>d<0?"\u2212"+Math.abs(d):String(d)},
  {k:'temp', ticks:tempTicks, fmt:d=>String(d)},
  {k:'wind', ticks:windTicks, fmt:d=>String(d)}
];
xAxes.forEach(a=>{
  svg.append('g').attr('transform',`translate(0,${rowY[4]+PH+0.5})`)
    .call(d3.axisBottom(xs[a.k]).tickValues(a.ticks).tickFormat(a.fmt).tickSize(8).tickPadding(13))
    .call(styleAxis);
});

function title(x,y,rot,parts){
  const t = svg.append('text').attr('transform',`translate(${x},${y})${rot?' rotate(-90)':''}`)
    .attr('text-anchor','middle').attr('dominant-baseline','central')
    .attr('font-size',21.5).attr('font-weight','bold');
  parts.forEach(p=>{
    if (typeof p === 'string') t.append('tspan').text(p);
    else t.append('tspan').attr('font-size',p.fs).attr('dy',p.dy).text(p.t);
  });
}
const sup = [ "speed (km.h", {t:"-1",dy:-6,fs:13}, {t:")",dy:6,fs:21.5} ];
title(29,318,true,["Temporal shift"]); title(50,318,true,["(days)"]);
title(49,541,true,["Temperature (°C)"]);
title(30,750,true,["Average wind"]); title(53,750,true,sup);
title(24,965,true,["Relative light"]); title(45,965,true,["intensity"]);
title(245,1127,false,["Colony size"]); title(245,1151,false,["(no. adult bees)"]);
title(529,1127,false,["Temporal shift"]); title(529,1150,false,["(days)"]);
title(812,1127,false,["Temperature (°C)"]);
title(1096,1123,false,["Average wind"]); title(1096,1150,false,sup);

diagLabels.forEach((lines,i)=>{
  const cx = colX[i]+PW/2, cy = rowY[i]+PH/2;
  const all = lines.map(l=>({t:l,b:true})).concat([{t:"n = "+diagN[i],b:false}]);
  const n = all.length, step = 40.5;
  const off = n===2 ? -6 : -2;
  all.forEach((l,j)=>{
    svg.append('text').attr('x',cx).attr('y',cy+off+(j-(n-1)/2)*step)
      .attr('text-anchor','middle').attr('dominant-baseline','central')
      .attr('font-size',33).attr('font-weight',l.b?'bold':'normal').text(l.t);
  });
});

const corrRowOff = [-5,-2,4,-2];
correlations.forEach(([r,c,t])=>{
  svg.append('text').attr('x',colX[c]+PW/2).attr('y',rowY[r]+PH/2+corrRowOff[r])
    .attr('text-anchor','middle').attr('dominant-baseline','central')
    .attr('font-size',33).text(t);
});
</script></body></html>
